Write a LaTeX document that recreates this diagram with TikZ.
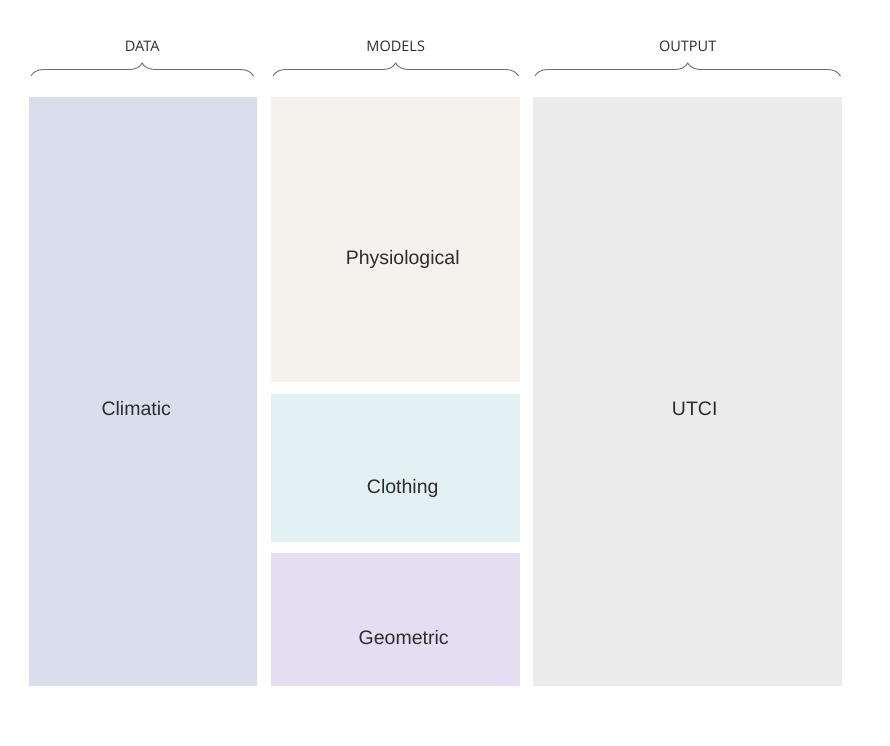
\documentclass[tikz,border=0pt]{standalone}
\usepackage{fontspec}
\setmainfont{Liberation Sans}
\newfontfamily\hdrfont{Open Sans}
\usetikzlibrary{positioning, calc, decorations.pathreplacing}
\definecolor{mytext}{RGB}{45,45,45}
\definecolor{mybrace}{RGB}{110,110,110}
\definecolor{fillclim}{RGB}{216,222,236}
\definecolor{fillphys}{RGB}{245,242,238}
\definecolor{fillcloth}{RGB}{227,241,245}
\definecolor{fillgeom}{RGB}{229,221,242}
\definecolor{fillutci}{RGB}{235,235,235}
\tikzset{
  panel/.style={rectangle, draw=none, anchor=north west, inner sep=0pt},
  panellabel/.style={anchor=base, text=mytext,
    font=\fontsize{19.5}{23}\selectfont},
  brace/.style={decorate, decoration={brace, amplitude=13pt, aspect=0.5},
    draw=mybrace, line width=0.9pt},
  bracelabel/.style={midway, above=24pt, inner sep=0pt, text=mytext,
    font=\hdrfont\fontsize{14.5}{17}\selectfont}
}

\begin{document}
\begin{tikzpicture}[x=1pt, y=-1pt]
  \useasboundingbox (0,0) rectangle (890,745);

  % Data column
  \node[panel, fill=fillclim, minimum width=228pt, minimum height=589pt] (climatic) at (29,97) {};
  \node[panellabel] (lbl_clim) at ([xshift=-7pt, yshift=-24pt]climatic.center) {Climatic};

  % Model column
  \node[panel, fill=fillphys, minimum width=249pt, minimum height=285pt] (physio) at (271,97) {};
  \node[panel, fill=fillcloth, minimum width=249pt, minimum height=148pt] (cloth) at (271,394) {};
  \node[panel, fill=fillgeom, minimum width=249pt, minimum height=133pt] (geom) at (271,553) {};
  \node[panellabel] (lbl_phys) at ([xshift=7pt, yshift=-25pt]physio.center) {Physiological};
  \node[panellabel] (lbl_cloth) at ([xshift=7pt, yshift=-25pt]cloth.center) {Clothing};
  \node[panellabel] (lbl_geom) at ([xshift=8pt, yshift=-25pt]geom.center) {Geometric};

  % Output column
  \node[panel, fill=fillutci, minimum width=309pt, minimum height=589pt] (utci) at (533,97) {};
  \node[panellabel] (lbl_utci) at ([xshift=7pt, yshift=-24pt]utci.center) {UTCI};

  % Braces
  \draw[brace] ([xshift=2pt, yshift=21pt]climatic.north west) -- ([xshift=-4pt, yshift=21pt]climatic.north east)
    node[bracelabel] (hdr_data) {DATA};
  \draw[brace] ([xshift=2pt, yshift=21pt]physio.north west) -- ([xshift=-2pt, yshift=21pt]physio.north east)
    node[bracelabel] (hdr_models) {MODELS};
  \draw[brace] ([xshift=2pt, yshift=21pt]utci.north west) -- ([xshift=-2pt, yshift=21pt]utci.north east)
    node[bracelabel] (hdr_output) {OUTPUT};
\end{tikzpicture}
\end{document}
